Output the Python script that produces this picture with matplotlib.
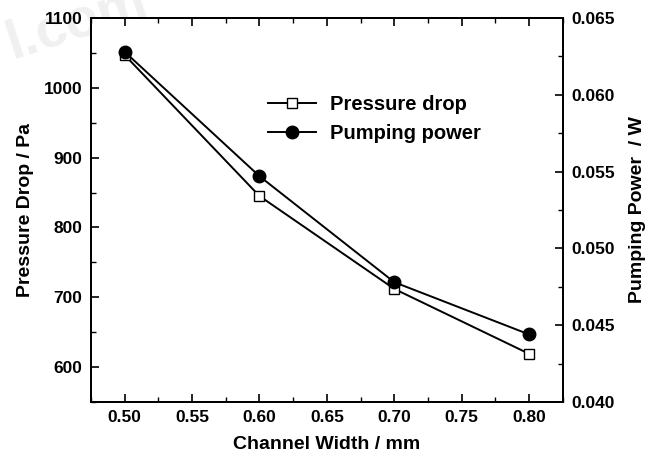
import matplotlib
matplotlib.use("Agg")
import matplotlib.pyplot as plt
from matplotlib.ticker import MultipleLocator, FormatStrFormatter
from matplotlib.lines import Line2D

plt.rcParams['font.family'] = ['Liberation Sans', 'DejaVu Sans']
plt.rcParams['font.weight'] = 'bold'

# Data
channel_width = [0.50, 0.60, 0.70, 0.80]
pressure_drop = [1047, 845, 712, 619]
pumping_power = [0.0628, 0.0547, 0.0478, 0.0444]

fig = plt.figure(figsize=(6.59, 4.58), dpi=100)
ax = fig.add_axes([0.138, 0.1223, 0.716, 0.8384])
ax2 = ax.twinx()

l1, = ax.plot(channel_width, pressure_drop, color='black', lw=1.4,
              marker='s', markersize=7.5, markerfacecolor='white',
              markeredgecolor='black', markeredgewidth=1.0, zorder=3)
l2, = ax2.plot(channel_width, pumping_power, color='black', lw=1.4,
               marker='o', markersize=9, markerfacecolor='black',
               markeredgecolor='black', zorder=3)

ax.set_xlim(0.475, 0.825)
ax.set_ylim(550, 1100)
ax2.set_ylim(0.040, 0.065)

ax.xaxis.set_major_locator(MultipleLocator(0.05))
ax.xaxis.set_minor_locator(MultipleLocator(0.025))
ax.xaxis.set_major_formatter(FormatStrFormatter('%.2f'))
ax.yaxis.set_major_locator(MultipleLocator(100))
ax.yaxis.set_minor_locator(MultipleLocator(50))
ax2.yaxis.set_major_locator(MultipleLocator(0.005))
ax2.yaxis.set_minor_locator(MultipleLocator(0.0025))
ax2.yaxis.set_major_formatter(FormatStrFormatter('%.3f'))

ax.tick_params(axis='x', which='both', direction='in', top=True, bottom=True)
ax.tick_params(axis='y', which='both', direction='in', left=True, right=False)
ax2.tick_params(axis='y', which='both', direction='in', right=True, left=False)
for a in (ax, ax2):
    a.tick_params(which='major', length=6, width=1.2, labelsize=12.5, pad=6)
    a.tick_params(which='minor', length=3.5, width=1.0)
    for s in a.spines.values():
        s.set_linewidth(1.4)
for lab in ax.get_xticklabels() + ax.get_yticklabels() + ax2.get_yticklabels():
    lab.set_fontweight('bold')

ax.set_xlabel('Channel Width / mm', fontsize=14, fontweight='bold', labelpad=8)
ax.set_ylabel('Pressure Drop / Pa', fontsize=14, fontweight='bold', labelpad=7)
ax2.set_ylabel('Pumping Power  / W', fontsize=14, fontweight='bold', labelpad=10)

h1 = Line2D([], [], color='black', lw=1.4, marker='s', markersize=7.5,
            markerfacecolor='white', markeredgecolor='black', markeredgewidth=1.0)
h2 = Line2D([], [], color='black', lw=1.4, marker='o', markersize=9,
            markerfacecolor='black')
ax2.legend([h1, h2], ['Pressure drop', 'Pumping power'], loc='upper left',
           bbox_to_anchor=(0.375, 0.80), frameon=False,
           handlelength=2.4, handletextpad=0.7, labelspacing=0.5,
           borderpad=0, borderaxespad=0,
           prop={'weight': 'bold', 'size': 14.5})

fig.text(0.0, 0.95, 'l.com', fontsize=40, color='#f0f0f0', rotation=18,
         fontweight='bold', zorder=-1, ha='left', va='center')

fig.savefig('out.png', dpi=100)
